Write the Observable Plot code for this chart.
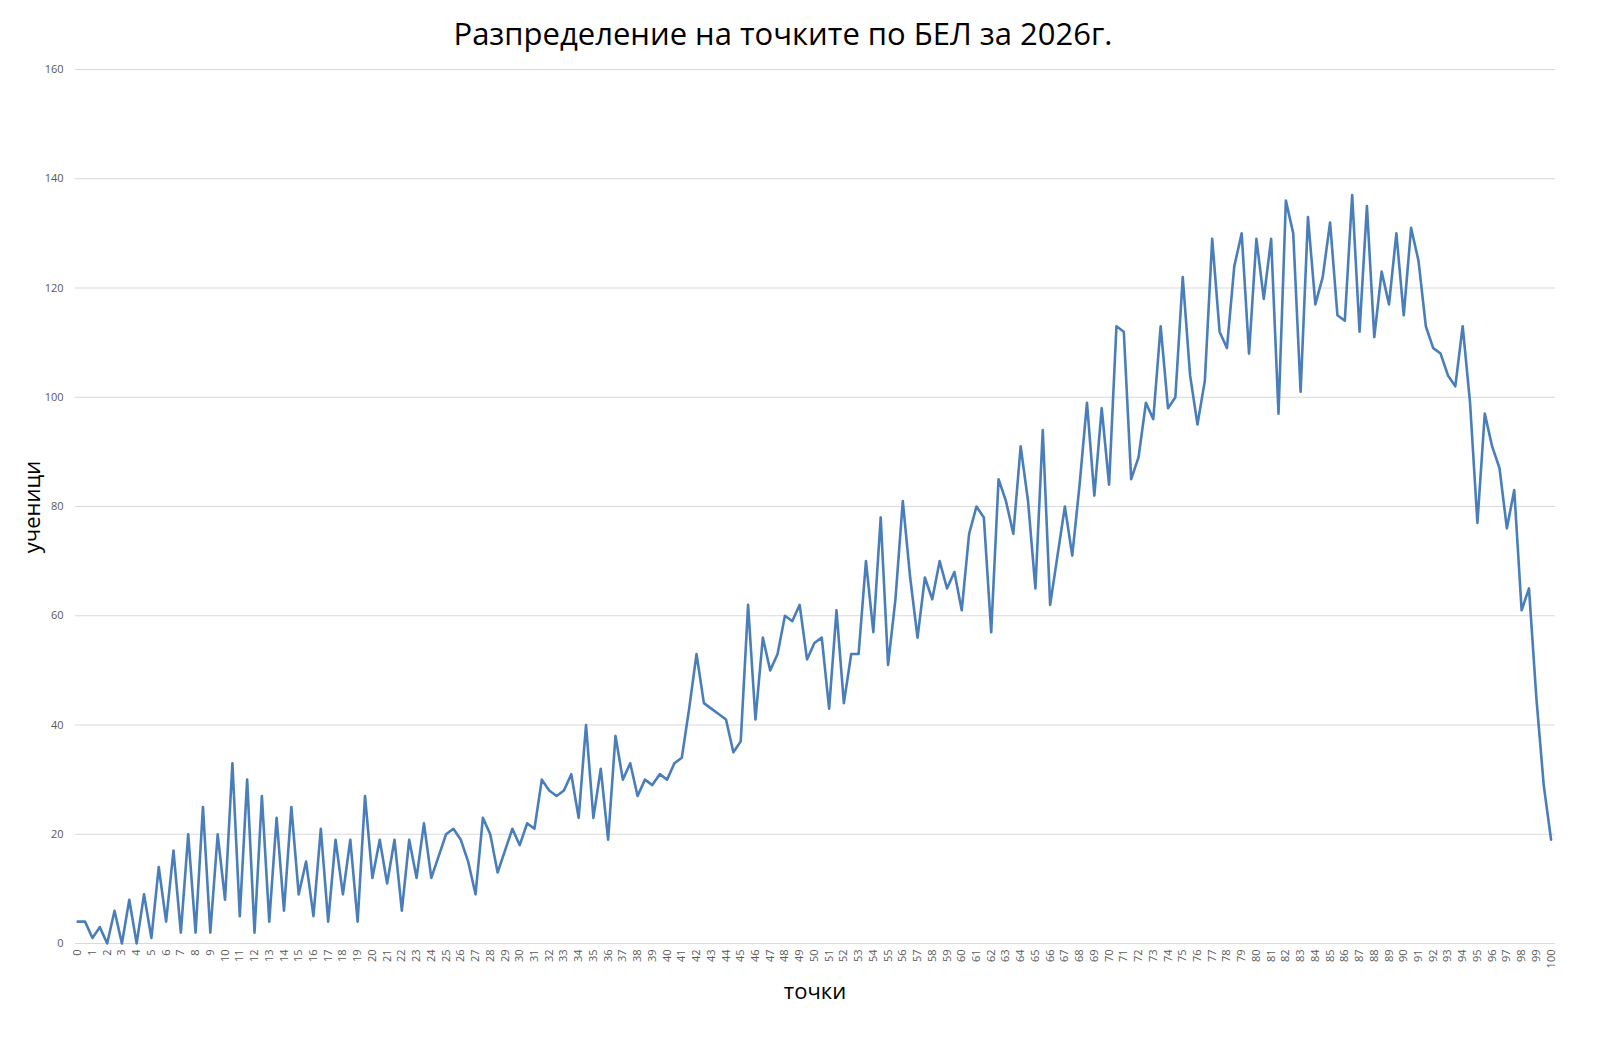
<!DOCTYPE html>
<html><head><meta charset="utf-8">
<script src="https://cdn.jsdelivr.net/npm/d3@7"></script>
<script src="https://cdn.jsdelivr.net/npm/@observablehq/plot@0.6"></script>
<style>
html,body{margin:0;background:#fff;overflow:hidden;font-family:"Open Sans",sans-serif;}
#wrap{position:relative;width:1603px;height:1043px;overflow:hidden;}
#chart svg{display:block;max-width:none;}
.t{position:absolute;color:#000;}
</style></head><body>
<div id="wrap">
<div id="chart"></div>
<div class="t" style="left:0;width:1566px;top:12px;text-align:center;font-size:31px;">Разпределение на точките по БЕЛ за 2026г.</div>
<div class="t" style="left:31px;top:507px;transform:translate(-50%,-50%) rotate(-90deg);font-size:22px;">ученици</div>
<div class="t" style="left:815px;top:990px;transform:translate(-50%,-50%);font-size:22px;">точки</div>
</div>
<script>
const points = d3.range(0, 201).map(i => i / 2);
const students = [4,4,1,3,0,6,0,8,0,9,1,14,4,17,2,20,2,25,2,20,8,33,5,30,2,27,4,23,6,25,9,15,5,21,4,19,9,19,4,27,12,19,11,19,6,19,12,22,12,16,20,21,19,15,9,23,20,13,17,21,18,22,21,30,28,27,28,31,23,40,23,32,19,38,30,33,27,30,29,31,30,33,34,43,53,44,43,42,41,35,37,62,41,56,50,53,60,59,62,52,55,56,43,61,44,53,53,70,57,78,51,63,81,67,56,67,63,70,65,68,61,75,80,78,57,85,81,75,91,81,65,94,62,71,80,71,84,99,82,98,84,113,112,85,89,99,96,113,98,100,122,104,95,103,129,112,109,124,130,108,129,118,129,97,136,130,101,133,117,122,132,115,114,137,112,135,111,123,117,130,115,131,125,113,109,108,104,102,113,99,77,97,91,87,76,83,61,65,45,29,19];
const xTicks = d3.range(0, 101);
const yTicks = d3.range(0, 161, 20);
const data = points.map((p, i) => ({p, v: students[i]}));
const chart = Plot.plot({
  width: 1603, height: 1043,
  marginTop: 69, marginBottom: 100, marginLeft: 75, marginRight: 48,
  style: {fontFamily: "'Open Sans',sans-serif", background: "#fff"},
  x: {domain: [-0.15, 100.3], label: null},
  y: {domain: [0, 160], label: null},
  marks: [
    Plot.ruleY(yTicks, {stroke: "#d9d9d9", strokeWidth: 1}),
    Plot.axisY({ticks: yTicks, tickSize: 0, tickPadding: 12, fontSize: 11, fill: "#595959", label: null}),
    Plot.axisX({ticks: xTicks, tickFormat: d => String(d), tickRotate: -90, tickSize: 0, tickPadding: 6, fontSize: 11, fill: "#595959", label: null}),
    Plot.line(data, {x: "p", y: "v", stroke: "#4a7ebb", strokeWidth: 2.6, strokeLinejoin: "round"})
  ]
});
document.getElementById("chart").appendChild(chart);
</script>
</body></html>
